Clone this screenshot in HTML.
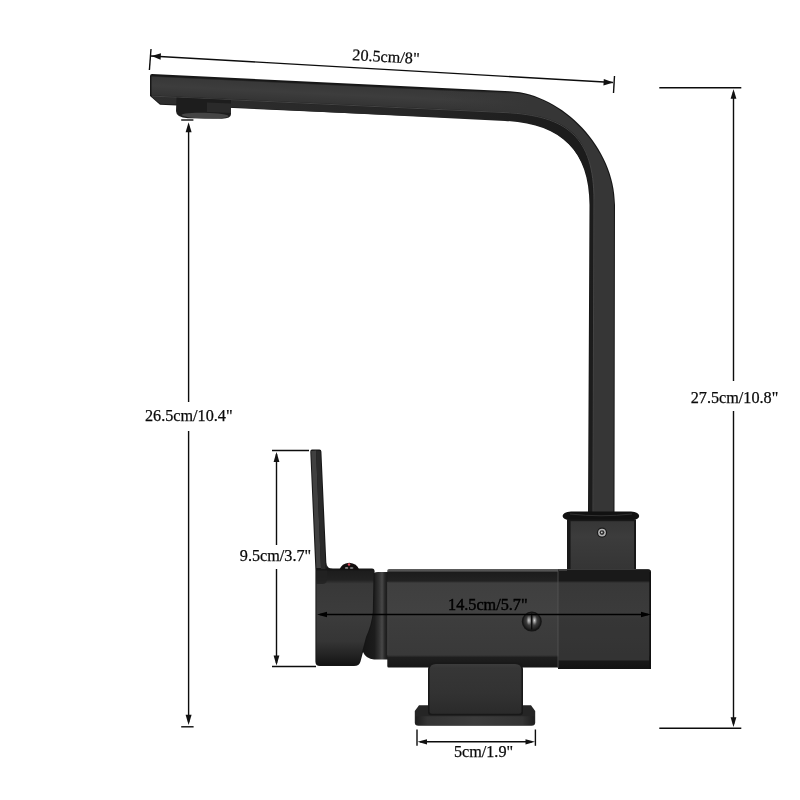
<!DOCTYPE html>
<html><head><meta charset="utf-8">
<style>
html,body{margin:0;padding:0;background:#fff;}
body{width:800px;height:800px;overflow:hidden;font-family:"Liberation Serif",serif;}
svg{display:block}
text{font-family:"Liberation Serif",serif;font-size:16.2px;fill:#0a0a0a;stroke:#0a0a0a;stroke-width:0.25px;}
</style></head><body>
<svg width="800" height="800" viewBox="0 0 800 800">
<defs>
<linearGradient id="gBody" x1="0" y1="0" x2="0" y2="1">
<stop offset="0" stop-color="#5e5e5e"/><stop offset="0.02" stop-color="#505050"/><stop offset="0.035" stop-color="#1c1c1c"/><stop offset="0.12" stop-color="#222"/><stop offset="0.14" stop-color="#3f3f3f"/><stop offset="0.45" stop-color="#424242"/><stop offset="0.5" stop-color="#3d3d3d"/><stop offset="0.86" stop-color="#393939"/><stop offset="0.885" stop-color="#1e1e1e"/><stop offset="1" stop-color="#161616"/>
</linearGradient>
<linearGradient id="gBlock" x1="0" y1="0" x2="0" y2="1">
<stop offset="0" stop-color="#363636"/><stop offset="0.3" stop-color="#3c3c3c"/><stop offset="1" stop-color="#343434"/>
</linearGradient>
<linearGradient id="gCyl" gradientUnits="userSpaceOnUse" x1="360" y1="0" x2="389" y2="0">
<stop offset="0" stop-color="#131313"/><stop offset="0.5" stop-color="#1c1c1c"/><stop offset="0.66" stop-color="#333"/><stop offset="0.76" stop-color="#484848"/><stop offset="0.86" stop-color="#262626"/><stop offset="1" stop-color="#111"/>
</linearGradient>
<linearGradient id="gHandle" x1="0" y1="0" x2="0" y2="1">
<stop offset="0" stop-color="#1c1c1c"/><stop offset="0.1" stop-color="#222"/><stop offset="0.14" stop-color="#383838"/><stop offset="0.45" stop-color="#3c3c3c"/><stop offset="0.75" stop-color="#353535"/><stop offset="0.9" stop-color="#222"/><stop offset="1" stop-color="#141414"/>
</linearGradient>
<linearGradient id="gStem" x1="0" y1="0" x2="0" y2="1">
<stop offset="0" stop-color="#3c3c3c"/><stop offset="0.08" stop-color="#363636"/><stop offset="0.6" stop-color="#323232"/><stop offset="1" stop-color="#2a2a2a"/>
</linearGradient>
<radialGradient id="gKnob" cx="0.5" cy="0.45" r="0.55">
<stop offset="0" stop-color="#5a5a5a"/><stop offset="0.6" stop-color="#3a3a3a"/><stop offset="1" stop-color="#1a1a1a"/>
</radialGradient>
<radialGradient id="gHi" cx="0.5" cy="0.5" r="0.5">
<stop offset="0" stop-color="#d8d8d8" stop-opacity="1"/><stop offset="0.5" stop-color="#a0a0a0" stop-opacity="0.7"/><stop offset="1" stop-color="#707070" stop-opacity="0"/>
</radialGradient>
<linearGradient id="gBar" gradientUnits="userSpaceOnUse" x1="300" y1="81.6" x2="298.95" y2="103.6">
<stop offset="0" stop-color="#111"/><stop offset="0.06" stop-color="#1c1c1c"/><stop offset="0.12" stop-color="#383838"/><stop offset="0.5" stop-color="#3d3d3d"/><stop offset="0.9" stop-color="#353535"/><stop offset="1" stop-color="#2c2c2c"/>
</linearGradient>
<linearGradient id="gFade" gradientUnits="userSpaceOnUse" x1="440" y1="0" x2="530" y2="0">
<stop offset="0" stop-color="#363636" stop-opacity="0"/><stop offset="1" stop-color="#363636" stop-opacity="1"/>
</linearGradient>
<linearGradient id="gUnder" gradientUnits="userSpaceOnUse" x1="150" y1="0" x2="560" y2="0">
<stop offset="0" stop-color="#2e2e2e"/><stop offset="0.6" stop-color="#272727"/><stop offset="1" stop-color="#1c1c1c"/>
</linearGradient>
<filter id="noop" x="0" y="0" width="800" height="800" filterUnits="userSpaceOnUse"><feOffset dx="0" dy="0"/></filter>
<linearGradient id="gPlate" x1="0" y1="0" x2="1" y2="0">
<stop offset="0" stop-color="#1e1e1e"/><stop offset="0.1" stop-color="#343434"/><stop offset="0.5" stop-color="#3c3c3c"/><stop offset="0.9" stop-color="#343434"/><stop offset="1" stop-color="#1e1e1e"/>
</linearGradient>
</defs>
<rect width="800" height="800" fill="#fff"/>

<!-- ===== FAUCET ===== -->
<g id="faucet">
<!-- spout + pipe silhouette -->
<path d="M152,74 L510,91.3 C563,94.1 615,148 615,205 L614.5,513 L588,513 L589.5,205 C589.5,150 560,122.6 505,120 L160,104.8 L150,96 L150,76 Q150,74 152,74 Z" fill="#171717"/>
<!-- front face -->
<path d="M151.5,75.5 L510,92.6 C562,95.4 613.8,149 613.8,205 L613.3,513 L593.4,513 L594.4,200 C594.4,137 568.5,114.9 505,111.9 L151.5,95.4 Z" fill="url(#gBar)"/>
<!-- vertical/curve face overlay -->
<path d="M440,89.2 L510,92.6 C562,95.4 613.8,149 613.8,205 L613.3,513 L593.4,513 L594.4,200 C594.4,137 568.5,114.9 505,111.9 L440,108.9 Z" fill="url(#gFade)"/>
<!-- underside -->
<path d="M151,96.6 L505,113.2 C566.5,116.1 593.2,138 593.2,200 L592.2,513 L589,513 L590.4,205 C590.4,151 560,123.5 505,120.9 L160.5,103.8 Z" fill="url(#gUnder)"/>
<!-- highlight line -->
<path d="M152,96.1 L505,112.6 C567.5,115.5 593.9,137.5 593.9,200 L592.9,513" fill="none" stroke="#585858" stroke-width="0.7"/>
<!-- nozzle -->
<path d="M176.5,97.5 L231,100 L231,114 Q231,118.5 222,118.7 L188,118.2 Q176,117.5 176,111 Z" fill="#1d1d1d"/>
<path d="M207,102.5 L231,103.5 L231,113 L207,112 Z" fill="#2a2a2a"/>
<ellipse cx="205" cy="115.6" rx="23.5" ry="2.8" fill="#454545" transform="rotate(1.5 205 115.6)"/>
<!-- collar -->
<path d="M562.6,516 Q562.6,512.2 571,511.4 L631,511.4 Q639.2,512.2 639.2,516 Q639.2,519.4 632,520.6 L570,520.6 Q562.6,519.4 562.6,516 Z" fill="#111"/>
<path d="M570,514 Q601,517.5 632,514" stroke="#333" stroke-width="0.9" fill="none"/>
<!-- block -->
<rect x="567" y="519.5" width="69" height="54" fill="#181818"/>
<rect x="570.6" y="521.2" width="63.4" height="51" fill="url(#gBlock)"/>
<circle cx="602" cy="532.6" r="5.1" fill="#1a1a1a"/><circle cx="602" cy="532.6" r="3.9" fill="#b4b4b4"/><circle cx="602" cy="532.6" r="2.4" fill="#2a2a2a"/><circle cx="601.8" cy="532.4" r="0.9" fill="#cfcfcf"/>
<!-- base plate & stem -->
<path d="M419,705.2 L531,705.2 L535.2,711 L535.2,722.5 Q535.2,725.8 531.5,725.8 L418.5,725.8 Q414.8,725.8 414.8,722.5 L414.8,711 Z" fill="#252525"/>
<path d="M415.6,716.2 L534.4,716.2 L534.4,722.5 Q534.4,725 531.5,725 L418.5,725 Q415.6,725 415.6,722.5 Z" fill="url(#gPlate)"/>
<!-- connector cylinder -->
<path d="M360,640 L372,576 Q373,572 378,572 L389,572 L389,659.5 L374,659.5 Q366,659 363,652 Z" fill="url(#gCyl)"/>
<!-- main body -->
<path d="M389,569 L648,569 Q651,569 651,572.5 L651,669 L558,669 L558,667.5 L388.5,667.5 Q387.3,667.5 387.3,666 L387.3,570.5 Q387.3,569 389,569 Z" fill="url(#gBody)"/>
<rect x="558" y="570" width="93" height="99" fill="#000" opacity="0.10"/>
<path d="M558,569.6 L648,569.6 Q651,569.6 651,572.6 L651,581 L558,581 Z" fill="#191919"/>
<rect x="558.4" y="569.2" width="8.6" height="1.6" fill="#484848"/>
<rect x="558.4" y="653" width="91" height="7.5" fill="#333"/>
<rect x="649.3" y="572" width="1.7" height="97" fill="#111"/>
<line x1="558" y1="571" x2="558" y2="668" stroke="#595959" stroke-width="0.7"/>
<line x1="387.8" y1="582" x2="387.8" y2="655" stroke="#4a4a4a" stroke-width="0.6"/>
<!-- stem (in front of body bottom) -->
<path d="M428,712 L428,669 Q428,662.6 435,662.6 L516,662.6 Q523,662.6 523,669 L523,712 Q523,715.2 520,715.2 L431,715.2 Q428,715.2 428,712 Z" fill="#181818"/>
<path d="M429.6,711.5 L429.6,670 Q429.6,664 436,664 L515,664 Q521.4,664 521.4,670 L521.4,711.5 Q521.4,713.8 519,713.8 L432,713.8 Q429.6,713.8 429.6,711.5 Z" fill="url(#gStem)"/>
<!-- knob -->
<circle cx="531.8" cy="621.6" r="10" fill="#151515"/>
<circle cx="531.8" cy="621.4" r="8.6" fill="url(#gKnob)"/>
<ellipse cx="528.9" cy="620.4" rx="2.8" ry="5.2" fill="url(#gHi)"/>
<ellipse cx="534.5" cy="620.4" rx="2.8" ry="5.2" fill="url(#gHi)"/>
<line x1="531.7" y1="613.5" x2="531.7" y2="629.5" stroke="#0a0a0a" stroke-width="1.3"/>
<!-- handle -->
<path d="M312,449.6 L319.5,449.6 Q321.3,449.6 321.4,451.5 L326.6,568.6 L372,568.6 Q374.6,568.6 374.6,571.5 L373.8,612 Q372.5,625 367,637 L360.5,661.5 Q359.3,666 354,666 L320,666 Q315.4,666 315.4,661.5 L315.4,570 L310.3,452 Q310.2,449.6 312,449.6 Z" fill="#161616"/>
<path d="M316.4,570.5 L373.6,570.5 L372.8,612 Q371.5,625 366,637 L359.6,661 Q358.5,665 354,665 L320.5,665 Q316.4,665 316.4,661 Z" fill="url(#gHandle)"/>
<path d="M326.3,562.5 Q326.6,568.8 333,568.8 L326,569.5 Z" fill="#161616"/>
<path d="M316.4,570.5 L327,570.5 L327,579 Q327,584 322,584 L316.4,584 Z" fill="#222" opacity="0.85"/>
<!-- lever two-tone -->
<path d="M311.2,451 L316,450.6 L321,568 L316.4,568 Z" fill="#404040"/>
<path d="M316,450.6 L320.4,451 L325.6,569 L321,569 Z" fill="#2a2a2a"/>
<!-- red button -->
<path d="M339.4,569.8 Q341.5,563.4 349.2,562.7 Q357,563.4 359.3,569.8 Z" fill="#120e0e"/>
<ellipse cx="346.6" cy="567.9" rx="1.7" ry="0.9" fill="#8c8c8c"/>
<ellipse cx="351.6" cy="568" rx="1.9" ry="0.9" fill="#777"/>
<circle cx="349" cy="564.6" r="1.25" fill="#dc4a5c"/>
</g>

<!-- ===== DIMENSIONS ===== -->
<g stroke="#0c0c0c" stroke-width="1.4" fill="none">
<!-- top -->
<line x1="151" y1="56" x2="613" y2="82.5"/>
<line x1="151" y1="49" x2="149.4" y2="70"/>
<line x1="614.5" y1="76" x2="613.5" y2="93"/>
<!-- left tall -->
<line x1="188.6" y1="126" x2="188.6" y2="402"/>
<line x1="188.6" y1="431" x2="188.6" y2="722"/>
<line x1="181.2" y1="120" x2="193.4" y2="120"/>
<line x1="181.2" y1="726.8" x2="193.6" y2="726.8"/>
<!-- right tall -->
<line x1="733.5" y1="92" x2="733.5" y2="381"/>
<line x1="733.5" y1="411" x2="733.5" y2="724"/>
<line x1="659.3" y1="87.8" x2="741.3" y2="87.8"/>
<line x1="659.3" y1="728.2" x2="741.3" y2="728.2"/>
<!-- handle height -->
<line x1="276.5" y1="454" x2="276.5" y2="545"/>
<line x1="276.5" y1="569" x2="276.5" y2="663"/>
<line x1="272" y1="450.5" x2="309" y2="450.5"/>
<line x1="272" y1="666.5" x2="316" y2="666.5"/>
<!-- body width -->
<line x1="320" y1="614.5" x2="648" y2="614.5" stroke="#000"/>
<!-- base width -->
<line x1="420" y1="741.8" x2="532" y2="741.8" stroke-width="1.5"/>
<line x1="417" y1="729.5" x2="417" y2="745.8"/>
<line x1="535.4" y1="729.5" x2="535.4" y2="745.8"/>
</g>
<g fill="#111" stroke="none">
<!-- arrowheads -->
<polygon points="151.5,56 161,53.2 160.6,59.8"/>
<polygon points="613.5,82.5 603.8,79 603.4,85.4"/>
<polygon points="188.6,122.3 185.6,132.3 191.6,132.3"/>
<polygon points="188.6,725 185.6,714.8 191.6,714.8"/>
<polygon points="733.5,89.2 730.6,98.8 736.4,98.8"/>
<polygon points="733.5,727 730.6,717.2 736.4,717.2"/>
<polygon points="276.5,452 273.6,462 279.4,462"/>
<polygon points="276.5,665.5 273.6,655.4 279.4,655.4"/>
<polygon points="317,614.5 327,611.7 327,617.3" fill="#000"/>
<polygon points="651,614.5 641,611.7 641,617.3" fill="#000"/>
<polygon points="417.5,741.8 427,739.2 427,744.4"/>
<polygon points="535,741.8 525.5,739.2 525.5,744.4"/>
</g>
<g text-anchor="middle" filter="url(#noop)">
<text x="385.7" y="62" transform="rotate(3.2 385.7 62)">20.5cm/8"</text>
<text x="188.8" y="421.4">26.5cm/10.4"</text>
<text x="734.5" y="402.6">27.5cm/10.8"</text>
<text x="275.5" y="561">9.5cm/3.7"</text>
<text x="487.8" y="609.5" style="fill:#000;stroke:#000;stroke-width:0.45px">14.5cm/5.7"</text>
<text x="483.5" y="757">5cm/1.9"</text>
</g>
</svg>
</body></html>
